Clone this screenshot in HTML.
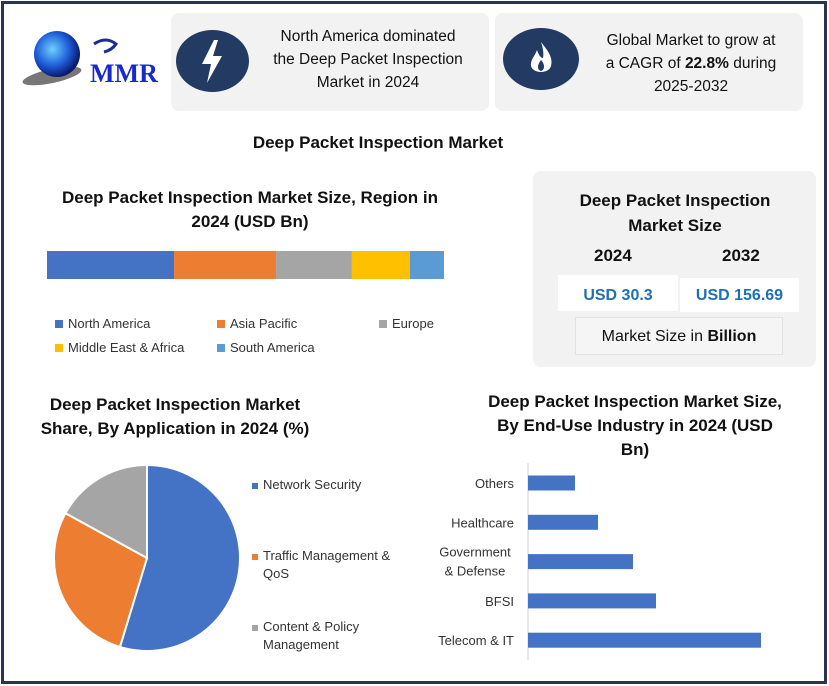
<!DOCTYPE html>
<html><head><meta charset="utf-8"><style>
*{margin:0;padding:0;box-sizing:border-box}
body{width:829px;height:686px;background:#fff;font-family:"Liberation Sans",sans-serif;position:relative;overflow:hidden;color:#111}
.a{position:absolute}
.c{text-align:center;white-space:nowrap}
.b{font-weight:bold}
</style></head><body>
<div class="a" style="left:1px;top:1px;width:826px;height:683px;border:3px solid #2b3551"></div>

<div class="a" style="left:12px;top:26px;width:150px;height:66px">
<svg width="150" height="66" viewBox="0 0 150 66">
<defs><radialGradient id="g" cx="0.4" cy="0.4" r="0.6"><stop offset="0" stop-color="#6fd0ff"/><stop offset="0.6" stop-color="#1e5ed8"/><stop offset="1" stop-color="#0a1a70"/></radialGradient></defs>
<ellipse cx="40" cy="50" rx="30" ry="7" fill="#777" transform="rotate(-12 40 50)"/>
<circle cx="45" cy="28" r="23" fill="url(#g)"/>
<path d="M82 18 q12 -8 22 0 q-4 6 -12 8" fill="none" stroke="#1a2a9a" stroke-width="3"/>
<text x="78" y="56" font-family="Liberation Serif,serif" font-weight="bold" font-size="26" fill="#1a2ac8">MMR</text>
</svg></div>

<div class="a" style="left:171px;top:13px;width:318px;height:98px;background:#f2f2f2;border-radius:8px"></div>
<div class="a" style="left:176px;top:30px;width:73px;height:62px;border-radius:50%;background:#233a63">
<svg width="73" height="62"><path d="M38 10 L26 34 L35 34 L31 53 L46 26 L37 26 L42 10 Z" fill="#fff"/></svg></div>
<div class="a c" style="left:252px;top:25px;width:232px;font-size:15.5px;line-height:23px">North America dominated<br>the Deep Packet Inspection<br>Market in 2024</div>

<div class="a" style="left:495px;top:13px;width:308px;height:98px;background:#f2f2f2;border-radius:8px"></div>
<div class="a" style="left:503px;top:28px;width:76px;height:62px;border-radius:50%;background:#233a63">
<svg width="76" height="62"><path d="M38 14 C46 24 50 30 48 38 C46 46 30 46 28 38 C27 32 32 28 34 22 C36 28 38 30 40 30 C41 26 40 20 38 14 Z" fill="#fff"/><path d="M38 32 C42 36 42 42 38 43 C34 42 34 37 38 32Z" fill="#233a63"/></svg></div>
<div class="a c" style="left:582px;top:29px;width:218px;font-size:15.5px;line-height:23px">Global Market to grow at<br>a CAGR of <b>22.8%</b> during<br>2025-2032</div>

<div class="a c b" style="left:180px;top:133px;width:396px;font-size:17px">Deep Packet Inspection Market</div>

<div class="a c b" style="left:40px;top:186px;width:420px;font-size:17px;line-height:24px">Deep Packet Inspection Market Size, Region in<br>2024 (USD Bn)</div>
<svg class="a" id="stack" style="left:0;top:240px" width="460" height="130"></svg>

<div class="a" style="left:533px;top:171px;width:283px;height:196px;background:#f2f2f2;border-radius:8px"></div>
<div class="a c b" style="left:540px;top:188px;width:270px;font-size:17px;line-height:25px">Deep Packet Inspection<br>Market Size</div>
<div class="a b" style="left:594px;top:246px;font-size:17px">2024</div>
<div class="a b" style="left:722px;top:246px;font-size:17px">2032</div>
<div class="a c b" style="left:558px;top:275px;width:120px;height:36px;line-height:42px;background:#fff;color:#1f6fb5;font-size:16px">USD 30.3</div>
<div class="a c b" style="left:680px;top:278px;width:119px;height:34px;line-height:36px;background:#fff;color:#1f6fb5;font-size:16px">USD 156.69</div>
<div class="a c" style="left:575px;top:317px;width:208px;height:38px;line-height:38px;border:1px solid #e2e2e2;background:#f5f5f5;font-size:16px">Market Size in <b>Billion</b></div>

<div class="a c b" style="left:40px;top:393px;width:270px;font-size:17px;line-height:24px">Deep Packet Inspection Market<br>Share, By Application in 2024 (%)</div>
<svg class="a" id="pie" style="left:0;top:450px" width="420" height="220"></svg>

<div class="a c b" style="left:470px;top:390px;width:330px;font-size:17px;line-height:24px">Deep Packet Inspection Market Size,<br>By End-Use Industry in 2024 (USD<br>Bn)</div>
<svg class="a" id="bars" style="left:420px;top:460px" width="400" height="200"></svg>

<script>
const NS="http://www.w3.org/2000/svg";
function mk(p,t,a){const e=document.createElementNS(NS,t);for(const k in a)e.setAttribute(k,a[k]);p.appendChild(e);return e;}
// Region stacked bar
const regions=["North America","Asia Pacific","Europe","Middle East & Africa","South America"];
const regionShare=[32.0,25.7,19.1,14.6,8.6];
const regionColors=["#4472c4","#ed7d31","#a5a5a5","#ffc000","#5b9bd5"];
const st=document.getElementById('stack');
const tot=regionShare.reduce((a,b)=>a+b,0);
let x0=47;const W=397;
regionShare.forEach((v,i)=>{const w=v/tot*W;
 const r=mk(st,'rect',{x:x0,y:11,width:w,height:28,fill:regionColors[i]});
 
 
 x0+=w;});
const lp=[[55,88],[217,88],[379,88],[55,112],[217,112]];
regions.forEach((n,i)=>{
 const r=mk(st,'rect',{x:lp[i][0],y:lp[i][1]-8,width:8,height:8,fill:regionColors[i]});
 
 
 const t=mk(st,'text',{x:lp[i][0]+13,y:lp[i][1],'font-size':13,fill:'#333'});t.textContent=n;
 
 
});
// Pie
const apps=["Network Security","Traffic Management & QoS","Content & Policy Management"];
const appShare=[54.7,28.3,17.0];
const appColors=["#4472c4","#ed7d31","#a5a5a5"];
const pie=document.getElementById('pie');
const cx=147,cy=108,R=93;let ang=0;
const ptot=appShare.reduce((a,b)=>a+b,0);
appShare.forEach((v,i)=>{const a1=ang+v/ptot*2*Math.PI;
 const p1=[cx+R*Math.sin(ang),cy-R*Math.cos(ang)],p2=[cx+R*Math.sin(a1),cy-R*Math.cos(a1)];
 const lg=(a1-ang)>Math.PI?1:0;
 const s=mk(pie,'path',{d:`M${cx},${cy}L${p1[0]},${p1[1]}A${R},${R} 0 ${lg} 1 ${p2[0]},${p2[1]}Z`,fill:appColors[i],stroke:'#fff','stroke-width':2});
 
 
 ang=a1;});
const plab=[["Network Security"],["Traffic Management &","QoS"],["Content & Policy","Management"]];
const py=[39,110,181];
plab.forEach((ls,i)=>{
 const r=mk(pie,'rect',{x:252,y:py[i]-6,width:6,height:6,fill:appColors[i]});
 
 
 ls.forEach((l,j)=>{const t=mk(pie,'text',{x:263,y:py[i]+j*18,'font-size':13,fill:'#333'});t.textContent=l;
 
 });
});
// Bars
const industries=["Others","Healthcare","Government & Defense","BFSI","Telecom & IT"];
const industryVals=[4.7,7.0,10.5,12.8,23.3];
const bars=document.getElementById('bars');
const ax=108,scale=10;
function xs(v){return ax+v*scale;}
function ys(i){return 23+i*39.3;}
mk(bars,'line',{x1:ax,y1:3,x2:ax,y2:200,stroke:'#d0d0d0'});
industryVals.forEach((v,i)=>{
 const r=mk(bars,'rect',{x:ax,y:ys(i)-7.5,width:xs(v)-ax,height:15,fill:'#4472c4'});
 
 
 const lines=industries[i]==="Government & Defense"?["Government","& Defense"]:[industries[i]];
 lines.forEach((l,j)=>{const t=mk(bars,'text',{x:lines.length>1?55:94,y:ys(i)+5+(lines.length>1?(j*19-10):0),'text-anchor':lines.length>1?'middle':'end','font-size':13,fill:'#333'});
 t.textContent=l;
 
 });
});
</script>
</body></html>
